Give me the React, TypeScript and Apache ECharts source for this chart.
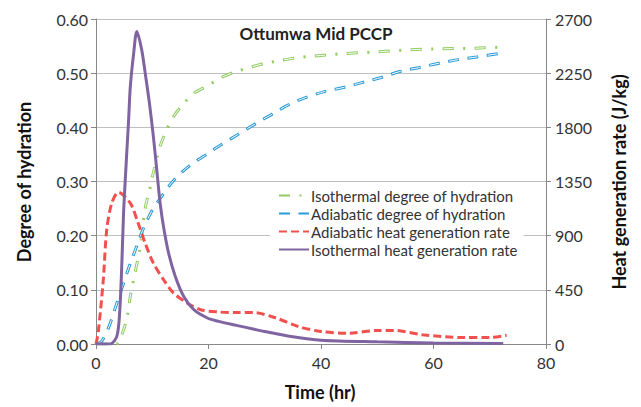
import React, { useEffect, useRef } from "react";
import * as echarts from "echarts";

const seriesNames = [
  "Isothermal degree of hydration",
  "Adiabatic degree of hydration",
  "Adiabatic heat generation rate",
  "Isothermal heat generation rate",
];

// Isothermal degree of hydration [time hr, DoH]
const isoDoH: number[][] = [
  [0, 0], [3.6, 0], [4.9, 0.026], [5.6, 0.054], [6.1, 0.088], [7.1, 0.14], [7.7, 0.169],
  [8.8, 0.254], [9.5, 0.283], [10.1, 0.312], [11.4, 0.365], [12.5, 0.394], [13.8, 0.42],
  [15.5, 0.443], [17.4, 0.463], [19.9, 0.477], [22.1, 0.491], [24.9, 0.503], [27.2, 0.51],
  [29.9, 0.518], [32.6, 0.523], [35.4, 0.528], [38.2, 0.531], [43.9, 0.536], [49.5, 0.539],
  [55.5, 0.543], [61.4, 0.545], [67.1, 0.546], [72, 0.548],
];

// Adiabatic degree of hydration [time hr, DoH]
const adiDoH: number[][] = [
  [0, 0], [1, 0.005], [2.3, 0.032], [3.5, 0.069], [4.6, 0.103], [5.8, 0.14], [7, 0.174],
  [8.3, 0.21], [9.9, 0.245], [11.7, 0.273], [13.8, 0.302], [16.5, 0.328], [19.5, 0.349],
  [22.1, 0.367], [25.1, 0.386], [28.1, 0.405], [31.1, 0.423], [34.1, 0.441], [37, 0.454],
  [40.6, 0.466], [44.2, 0.474], [47.4, 0.483], [50.7, 0.492], [54, 0.503], [57.3, 0.51],
  [60.8, 0.518], [64.4, 0.525], [67.7, 0.53], [71.5, 0.536], [72.5, 0.537],
];

// Adiabatic heat generation rate [time hr, J/kg]
const adiHeat: number[][] = [
  [0, 0], [0.4, 100], [1.3, 535], [1.9, 945], [2.8, 1170], [4, 1260], [6.1, 1170],
  [7.3, 1030], [8.75, 837], [10.2, 672], [12, 535], [13.8, 423], [16.2, 341], [18.6, 285],
  [21.8, 266], [25, 261], [28, 261], [32, 216], [36, 144], [40, 104], [45, 90], [50, 113],
  [53, 113], [58, 77], [65, 54], [70, 54], [73, 72],
];

// Isothermal heat generation rate [time hr, J/kg]
const isoHeat: number[][] = [
  [0, 0], [2.5, 0], [3.7, 63], [4.2, 257], [4.6, 675], [4.9, 1089], [5.2, 1364], [5.8, 1863],
  [6.1, 2138], [6.7, 2417], [7.26, 2597], [8.1, 2450], [8.75, 2250], [9.5, 2000],
  [10.2, 1723], [10.8, 1448], [11.4, 1170], [12, 976], [12.9, 756], [14.1, 561], [15.6, 395],
  [17.4, 285], [19.8, 216], [21.8, 188], [25, 155], [30, 104], [35, 60], [40, 32], [50, 18],
  [60, 9], [72.4, 5],
];

const xTicks = { min: 0, max: 80, interval: 20 };
const leftTicks = { min: 0, max: 0.6, interval: 0.1 };
const rightTicks = { min: 0, max: 2700, interval: 450 };

const FONT = "Lato, 'Open Sans', sans-serif";
const GREEN = "#92cc63";
const BLUE = "#2a9bd6";
const RED = "#f0504e";
const PURPLE = "#8064a2";

export default function App() {
  const ref = useRef<HTMLDivElement>(null);
  useEffect(() => {
    if (!ref.current) return;
    const chart = echarts.init(ref.current, undefined, { renderer: "svg" });
    const axisLabel = { color: "#333", fontSize: 16, fontFamily: FONT };
    const nameFont = `bold 18px ${FONT}`;
    chart.setOption({
      animation: false,
      backgroundColor: "#fff",
      grid: { left: 96, right: 95, top: 19, bottom: 63, containLabel: false },
      graphic: [
        {
          type: "text",
          x: 316,
          y: 33,
          style: {
            text: "Ottumwa Mid PCCP",
            font: `bold 17px ${FONT}`,
            fill: "#222",
            textAlign: "center",
            textVerticalAlign: "middle",
          },
        },
        {
          type: "text",
          x: 24,
          y: 182,
          rotation: Math.PI / 2,
          style: {
            text: "Degree of hydration",
            font: nameFont,
            fill: "#111",
            textAlign: "center",
            textVerticalAlign: "middle",
          },
        },
        {
          type: "text",
          x: 619,
          y: 182,
          rotation: Math.PI / 2,
          style: {
            text: "Heat generation rate (J/kg)",
            font: nameFont,
            fill: "#111",
            textAlign: "center",
            textVerticalAlign: "middle",
          },
        },
        {
          type: "text",
          x: 320,
          y: 392,
          style: {
            text: "Time (hr)",
            font: nameFont,
            fill: "#111",
            textAlign: "center",
            textVerticalAlign: "middle",
          },
        },
      ],
      legend: {
        left: 270,
        top: 186,
        width: 257,
        orient: "vertical",
        itemGap: 3,
        itemWidth: 30,
        itemHeight: 15,
        padding: [2, 6, 6, 8],
        backgroundColor: "#fff",
        itemStyle: { opacity: 0 },
        textStyle: { fontSize: 15, color: "#333", fontFamily: FONT, padding: [0, 0, 0, -3] },
        data: seriesNames,
      },
      xAxis: {
        type: "value",
        ...xTicks,
        axisLine: { show: true, lineStyle: { color: "#888" } },
        axisTick: { show: true, inside: false, length: 5, lineStyle: { color: "#888" } },
        splitLine: { show: false },
        axisLabel: { ...axisLabel, margin: 10 },
      },
      yAxis: [
        {
          type: "value",
          ...leftTicks,
          position: "left",
          axisLine: { show: true, lineStyle: { color: "#888" } },
          axisTick: { show: true, length: 5, lineStyle: { color: "#888" } },
          splitLine: { show: true, lineStyle: { color: "#bfbfbf", width: 1 } },
          axisLabel: { ...axisLabel, margin: 8, formatter: (v: number) => v.toFixed(2) },
        },
        {
          type: "value",
          ...rightTicks,
          position: "right",
          axisLine: { show: true, lineStyle: { color: "#888" } },
          axisTick: { show: true, length: 5, lineStyle: { color: "#888" } },
          splitLine: { show: false },
          axisLabel: { ...axisLabel, margin: 9, formatter: (v: number) => String(v) },
        },
      ],
      series: [
        {
          name: seriesNames[0],
          type: "line",
          yAxisIndex: 0,
          data: isoDoH,
          smooth: 0.3,
          symbol: "none",
          lineStyle: { color: GREEN, width: 3, type: [11, 9.5, 2, 9.5] },
          itemStyle: { color: GREEN },
          z: 2,
        },
        {
          name: "iso-doh-inner",
          type: "line",
          yAxisIndex: 0,
          data: isoDoH,
          smooth: 0.3,
          symbol: "none",
          silent: true,
          lineStyle: { color: "#fff", width: 1, type: [0, 0.9, 9.2, 21.9] },
          z: 2,
        },
        {
          name: seriesNames[1],
          type: "line",
          yAxisIndex: 0,
          data: adiDoH,
          smooth: 0.3,
          symbol: "none",
          lineStyle: { color: BLUE, width: 3, type: [11, 8.5] },
          itemStyle: { color: BLUE },
          z: 3,
        },
        {
          name: "adi-doh-inner",
          type: "line",
          yAxisIndex: 0,
          data: adiDoH,
          smooth: 0.3,
          symbol: "none",
          silent: true,
          lineStyle: { color: "#fff", width: 1, type: [0, 0.9, 9.2, 9.4] },
          z: 3,
        },
        {
          name: seriesNames[2],
          type: "line",
          yAxisIndex: 1,
          data: adiHeat,
          smooth: 0.3,
          symbol: "none",
          lineStyle: { color: RED, width: 3, type: [8, 4] },
          itemStyle: { color: RED },
          z: 4,
        },
        {
          name: seriesNames[3],
          type: "line",
          yAxisIndex: 1,
          data: isoHeat,
          smooth: 0.3,
          symbol: "none",
          lineStyle: { color: PURPLE, width: 3 },
          itemStyle: { color: PURPLE },
          z: 5,
        },
      ],
    });
    return () => chart.dispose();
  }, []);
  return (
    <div
      ref={ref}
      style={{ position: "absolute", left: 0, top: 0, width: 641, height: 407 }}
    />
  );
}
